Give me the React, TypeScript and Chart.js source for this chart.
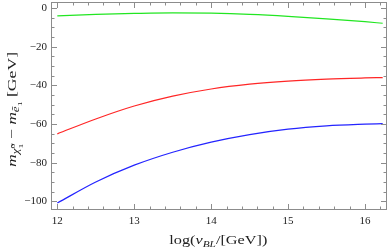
import React, { useEffect, useRef } from "react";
import { Chart, registerables } from "chart.js";

Chart.register(...registerables);

// ---- data ----
const xValues = [12, 12.5, 13, 13.5, 14, 14.5, 15, 15.5, 16, 16.23];
const greenValues = [-4.1, -3.3, -2.8, -2.5, -2.7, -3.3, -4.3, -5.6, -7.1, -7.9];
const redValues = [-65.1, -57.4, -50.7, -45.6, -41.9, -39.4, -37.8, -36.8, -36.2, -36.0];
const blueValues = [-100.9, -90.0, -81.3, -74.6, -69.4, -65.5, -62.7, -61.0, -60.1, -59.8];

const xTickValues = [12, 13, 14, 15, 16];
const xTickLabels = ["12", "13", "14", "15", "16"];
const yTickValues = [0, -20, -40, -60, -80, -100];
const yTickLabels = ["0", "\u221220", "\u221240", "\u221260", "\u221280", "\u2212100"];
const xRange = [11.931, 16.286];
const yRange = [-104.24, 3.36];
const xMinorStep = 0.2;
const yMinorStep = 5;

type Run = {
  t: string;
  it?: boolean;
  sc?: number;
  dy?: number;
  stack?: { t: string; dy: number; sc: number; it?: boolean }[];
};

const FONT = '"Liberation Serif", "Times New Roman", serif';
function runFont(size: number, it?: boolean) {
  return `${it ? "italic " : ""}${size}px ${FONT}`;
}
function runWidth(ctx: CanvasRenderingContext2D, r: Run, s: number) {
  if (r.stack) {
    let m = 0;
    for (const st of r.stack) {
      ctx.font = runFont(s * st.sc, st.it);
      m = Math.max(m, ctx.measureText(st.t).width);
    }
    return m;
  }
  ctx.font = runFont(s * (r.sc ?? 1), r.it);
  return ctx.measureText(r.t).width;
}
function measureRuns(ctx: CanvasRenderingContext2D, runs: Run[], s: number) {
  let w = 0;
  for (const r of runs) w += runWidth(ctx, r, s);
  return w;
}
function drawRuns(ctx: CanvasRenderingContext2D, runs: Run[], s: number, x0: number, y0: number) {
  let x = x0;
  ctx.textAlign = "left";
  ctx.textBaseline = "alphabetic";
  for (const r of runs) {
    const w = runWidth(ctx, r, s);
    if (r.stack) {
      for (const st of r.stack) {
        ctx.font = runFont(s * st.sc, st.it);
        ctx.fillText(st.t, x, y0 + st.dy * s);
      }
    } else {
      ctx.font = runFont(s * (r.sc ?? 1), r.it);
      ctx.fillText(r.t, x, y0 + (r.dy ?? 0) * s);
    }
    x += w;
  }
}

const xTitleRuns: Run[] = [
  { t: "log(" },
  { t: "v", it: true },
  { t: "BL", it: true, sc: 0.7, dy: 0.25 },
  { t: "/[GeV])" },
];
const yTitleRuns: Run[] = [
  { t: "m", it: true },
  { t: "\u03C7\u0303", it: true, sc: 0.75, dy: 0.3 },
  { t: "", stack: [{ t: "0", dy: -0.05, sc: 0.55 }, { t: "1", dy: 0.62, sc: 0.55 }] },
  { t: " \u2212 " },
  { t: "m", it: true },
  { t: "\u1EBD", it: true, sc: 0.75, dy: 0.3 },
  { t: "1", sc: 0.55, dy: 0.55 },
  { t: " [GeV]" },
];

const framePlugin = {
  id: "mmaFrame",
  afterDatasetsDraw(chart: any) {
    const { ctx, chartArea: a, scales } = chart;
    const xs = scales.x;
    const ys = scales.y;
    ctx.save();
    ctx.strokeStyle = "#8c8c8c";
    ctx.lineWidth = 1;
    const L = Math.round(a.left) - 0.5;
    const R = Math.round(a.right) - 0.5;
    const T = Math.round(a.top) + 0.5;
    const B = Math.round(a.bottom) - 0.5;
    ctx.strokeRect(L, T, R - L, B - T);

    ctx.beginPath();
    const xStart = Math.ceil(xRange[0] / xMinorStep - 1e-6);
    const xEnd = Math.floor(xRange[1] / xMinorStep + 1e-6);
    for (let i = xStart; i <= xEnd; i++) {
      const v = i * xMinorStep;
      const major = xTickValues.some((t) => Math.abs(t - v) < 1e-6);
      const len = major ? 5.5 : 3;
      const px = Math.round(xs.getPixelForValue(v)) + 0.5;
      ctx.moveTo(px, B);
      ctx.lineTo(px, B - len);
      ctx.moveTo(px, T);
      ctx.lineTo(px, T + len);
    }
    const yStart = Math.ceil(yRange[0] / yMinorStep - 1e-6);
    const yEnd = Math.floor(yRange[1] / yMinorStep + 1e-6);
    for (let i = yStart; i <= yEnd; i++) {
      const v = i * yMinorStep;
      const major = yTickValues.some((t) => Math.abs(t - v) < 1e-6);
      const len = major ? 5.5 : 3;
      const py = Math.round(ys.getPixelForValue(v)) + 0.5;
      ctx.moveTo(L, py);
      ctx.lineTo(L + len, py);
      ctx.moveTo(R, py);
      ctx.lineTo(R - len, py);
    }
    ctx.stroke();

    ctx.fillStyle = "#222";
    ctx.font = `11px ${FONT}`;
    ctx.textAlign = "center";
    ctx.textBaseline = "middle";
    xTickValues.forEach((v, i) => {
      ctx.fillText(xTickLabels[i], xs.getPixelForValue(v), 221.5);
    });
    ctx.textAlign = "right";
    yTickValues.forEach((v, i) => {
      ctx.fillText(yTickLabels[i], 47, ys.getPixelForValue(v));
    });

    const s = 12.5;
    let w = measureRuns(ctx, xTitleRuns, s);
    ctx.save();
    ctx.translate(218.3, 244);
    ctx.scale(98 / w, 1);
    drawRuns(ctx, xTitleRuns, s, -w / 2, 0);
    ctx.restore();

    w = measureRuns(ctx, yTitleRuns, s);
    ctx.save();
    ctx.translate(15.5, 109.5);
    ctx.rotate(-Math.PI / 2);
    ctx.scale(115 / w, 1);
    drawRuns(ctx, yTitleRuns, s, -w / 2, 0);
    ctx.restore();

    ctx.restore();
  },
};

export default function App() {
  const ref = useRef<HTMLCanvasElement | null>(null);
  useEffect(() => {
    document.body.style.margin = "0";
    const canvas = ref.current;
    if (!canvas) return;
    const mk = (ys: number[]) => xValues.map((x, i) => ({ x, y: ys[i] }));
    const common = { borderWidth: 1.2, pointRadius: 0, cubicInterpolationMode: "monotone", fill: false };
    const chart = new Chart(canvas, {
      type: "line",
      data: {
        datasets: [
          { data: mk(greenValues), borderColor: "#22e622", ...common },
          { data: mk(redValues), borderColor: "#ff2626", ...common },
          { data: mk(blueValues), borderColor: "#2424ff", ...common },
        ],
      },
      options: {
        animation: false,
        responsive: false,
        devicePixelRatio: 1,
        layout: { padding: { left: 52, right: 3, top: 1.5, bottom: 39.5 } },
        scales: {
          x: { type: "linear", min: xRange[0], max: xRange[1], display: false },
          y: { type: "linear", min: yRange[0], max: yRange[1], display: false },
        },
        plugins: { legend: { display: false }, tooltip: { enabled: false } },
      },
      plugins: [framePlugin],
    } as any);
    return () => chart.destroy();
  }, []);
  return (
    <div style={{ width: 390, height: 249 }}>
      <canvas ref={ref} width={390} height={249} style={{ display: "block" }} />
    </div>
  );
}
